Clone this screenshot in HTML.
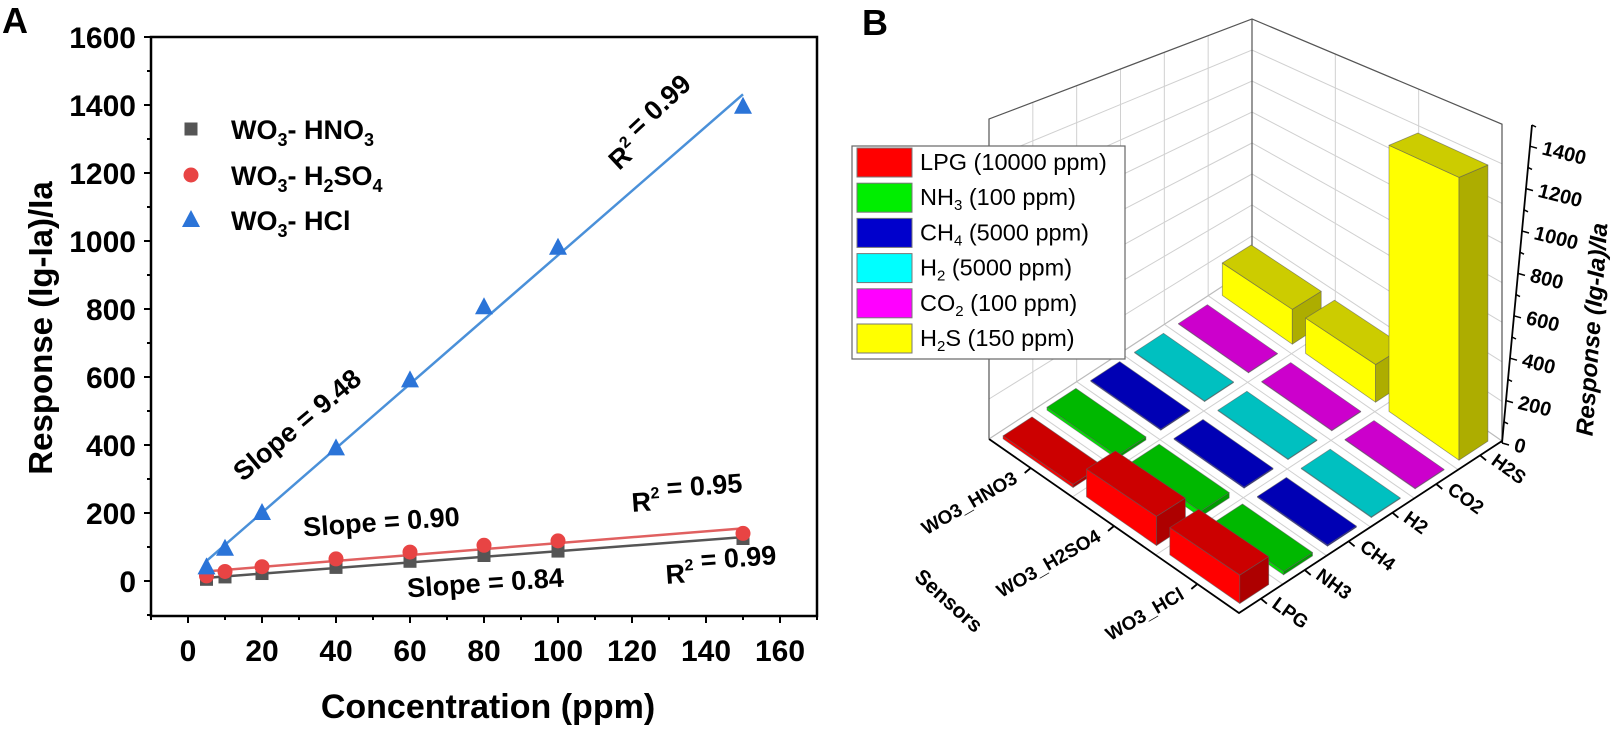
<!DOCTYPE html>
<html><head><meta charset="utf-8"><style>
html,body{margin:0;padding:0;background:#fff;}
svg{display:block;font-family:"Liberation Sans",Arial,sans-serif;}
</style></head><body>
<svg id="fig" width="1622" height="736" viewBox="0 0 1622 736" xmlns="http://www.w3.org/2000/svg">
<g id="panelA"></g>
<g id="panelB"></g>
</svg>
<script>
// ---------- Panel A data ----------
const concentrations = [5, 10, 20, 40, 60, 80, 100, 150];
const hno3Values = [5, 12, 22, 40, 58, 75, 88, 125];
const h2so4Values = [15, 28, 42, 65, 85, 105, 118, 140];
const hclValues = [40, 95, 200, 390, 590, 805, 980, 1395];
const yTicks = [0, 200, 400, 600, 800, 1000, 1200, 1400, 1600];
const xTicks = [0, 20, 40, 60, 80, 100, 120, 140, 160];

// ---------- Panel B data ----------
const sensors = ["WO3_HNO3", "WO3_H2SO4", "WO3_HCl"];
const gases = ["LPG", "NH3", "CH4", "H2", "CO2", "H2S"];
const lpgResp = [15, 130, 120];
const nh3Resp = [15, 25, 15];
const ch4Resp = [5, 5, 5];
const h2Resp = [3, 3, 3];
const co2Resp = [3, 3, 3];
const h2sResp = [200, 200, 1395];
const zTicks = [0, 200, 400, 600, 800, 1000, 1200, 1400];
const legendLabels = [["LPG", "", " (10000 ppm)"], ["NH", "3", " (100 ppm)"], ["CH", "4", " (5000 ppm)"], ["H", "2", " (5000 ppm)"], ["CO", "2", " (100 ppm)"], ["H", "2", "S (150 ppm)"]];

const NS = "http://www.w3.org/2000/svg";
function mk(parent, tag, attrs, text) {
  const e = document.createElementNS(NS, tag);
  for (const k in attrs) e.setAttribute(k, attrs[k]);
  if (text !== undefined) e.textContent = text;
  parent.appendChild(e);
  return e;
}

// ================= PANEL A =================
const A = document.getElementById("panelA");
const fx = v => 188 + 3.70 * v;
const fy = v => 581 - 0.34 * v;

let lab = mk(A, "text", {x: 2, y: 33, "font-size": 36, "font-weight": "bold"}, "A");



let frame = mk(A, "rect", {x: 151, y: 37, width: 666, height: 579, fill: "none", stroke: "#000", "stroke-width": 2.5});



for (let v = -100; v <= 1600; v += 100) {
  const major = v % 200 === 0;
  const t = mk(A, "line", {x1: 151, x2: major ? 144 : 147, y1: fy(v), y2: fy(v), stroke: "#000", "stroke-width": 2});
  
  
}
yTicks.forEach(v => {
  const t = mk(A, "text", {x: 136, y: fy(v) + 11, "font-size": 30, "font-weight": "bold", "text-anchor": "end"}, v);
  
  
});
for (let v = -10; v <= 170; v += 10) {
  const major = v % 20 === 0;
  const t = mk(A, "line", {x1: fx(v), x2: fx(v), y1: 616, y2: major ? 623 : 620, stroke: "#000", "stroke-width": 2});
  
  
}
xTicks.forEach(v => {
  const t = mk(A, "text", {x: fx(v), y: 661, "font-size": 30, "font-weight": "bold", "text-anchor": "middle"}, v);
  
  
});
let xt = mk(A, "text", {x: 488, y: 718, "font-size": 34, "font-weight": "bold", "text-anchor": "middle"}, "Concentration (ppm)");


let yt = mk(A, "text", {x: 0, y: 0, "font-size": 33, "font-weight": "bold", "text-anchor": "middle", transform: "translate(52,328) rotate(-90)"}, "Response (Ig-Ia)/Ia");



function fit(xs, ys) {
  const n = xs.length;
  const mx = xs.reduce((a, b) => a + b) / n, my = ys.reduce((a, b) => a + b) / n;
  let sxy = 0, sxx = 0;
  for (let i = 0; i < n; i++) { sxy += (xs[i] - mx) * (ys[i] - my); sxx += (xs[i] - mx) ** 2; }
  const m = sxy / sxx;
  return [m, my - m * mx];
}
const seriesA = [
  {vals: hno3Values, color: "#555555", line: "#555555", kind: "square", name: "hno3"},
  {vals: h2so4Values, color: "#e84444", line: "#e06060", kind: "circle", name: "h2so4"},
  {vals: hclValues, color: "#2b74d8", line: "#4a90d9", kind: "triangle", name: "hcl"}
];
function marker(g, kind, x, y, color, name) {
  let e;
  if (kind === "square") e = mk(g, "rect", {x: x - 6.5, y: y - 6.5, width: 13, height: 13, fill: color});
  else if (kind === "circle") e = mk(g, "circle", {cx: x, cy: y, r: 7.5, fill: color});
  else e = mk(g, "polygon", {points: `${x},${y - 10} ${x - 9},${y + 7} ${x + 9},${y + 7}`, fill: color});
  
  
  return e;
}
seriesA.forEach(s => {
  const [m, b] = fit(concentrations, s.vals);
  const x0 = concentrations[0], x1 = concentrations[concentrations.length - 1];
  const ln = mk(A, "line", {x1: fx(x0), y1: fy(m * x0 + b), x2: fx(x1), y2: fy(m * x1 + b), stroke: s.line, "stroke-width": 2.5});
  
  
});
seriesA.forEach(s => {
  concentrations.forEach((c, i) => marker(A, s.kind, fx(c), fy(s.vals[i]), s.color, 'point-' + s.name));
});

const legA = mk(A, "g", {});


const legRows = [
  {kind: "square", color: "#555555", y: 129, parts: [["WO", 0], ["3", 1], ["- HNO", 0], ["3", 1]]},
  {kind: "circle", color: "#e84444", y: 175, parts: [["WO", 0], ["3", 1], ["- H", 0], ["2", 1], ["SO", 0], ["4", 1]]},
  {kind: "triangle", color: "#2b74d8", y: 220, parts: [["WO", 0], ["3", 1], ["- HCl", 0]]}
];
legRows.forEach(r => {
  const g = mk(legA, "g", {});
  
  
  marker(g, r.kind, 191, r.y, r.color, 'legend-marker');
  const t = mk(g, "text", {x: 231, y: r.y + 10, "font-size": 27, "font-weight": "bold"});
  r.parts.forEach(p => {
    if (p[1]) { mk(t, "tspan", {"font-size": 18, dy: 7}, p[0]); mk(t, "tspan", {dy: -7, "font-size": 1}, "\u200b"); }
    else mk(t, "tspan", {}, p[0]);
  });
});

function ann(x, y, rot, parts, name) {
  const t = mk(A, "text", {x: 0, y: 0, "font-size": 27, "font-weight": "bold", "text-anchor": "middle", transform: `translate(${x},${y}) rotate(${rot})`});
  parts.forEach(p => {
    if (p[1]) { mk(t, "tspan", {"font-size": 16, dy: -12}, p[0]); mk(t, "tspan", {dy: 12}, ""); }
    else mk(t, "tspan", {}, p[0]);
  });
  
  
}
ann(660, 133, -43, [["R", 0], ["2", 1], [" = 0.99", 0]], "r2-hcl-label");
ann(303, 432, -40, [["Slope = 9.48", 0]], "slope-hcl-label");
ann(382, 531, -4, [["Slope = 0.90", 0]], "slope-h2so4-label");
ann(688, 508, -4, [["R", 0], ["2", 1], [" = 0.95", 0]], "r2-h2so4-label");
ann(486, 592, -4, [["Slope = 0.84", 0]], "slope-hno3-label");
ann(722, 580, -4, [["R", 0], ["2", 1], [" = 0.99", 0]], "r2-hno3-label");

// ================= PANEL B =================
const B = document.getElementById("panelB");
const gasValues = [lpgResp, nh3Resp, ch4Resp, h2Resp, co2Resp, h2sResp];
const gasColors = [[255, 0, 0], [0, 230, 0], [0, 0, 225], [0, 240, 240], [255, 0, 255], [255, 255, 0]];
const Lc = [989, 439], Fc = [1239, 613], Bc = [1252, 267], Rc = [1502, 441];
const kL = 0.2, kF = 0.24, kB = 0.155, kR = 0.198;
function P(u, v, h) {
  const a = (1 - u) * (1 - v), b = u * (1 - v), c = (1 - u) * v, d = u * v;
  const x = a * Lc[0] + b * Fc[0] + c * Bc[0] + d * Rc[0];
  const y = a * Lc[1] + b * Fc[1] + c * Bc[1] + d * Rc[1];
  const k = a * kL + b * kF + c * kB + d * kR;
  return [x, y - (h || 0) * k];
}
const pts = arr => arr.map(p => p[0].toFixed(1) + "," + p[1].toFixed(1)).join(" ");

let lbB = mk(B, "text", {x: 862, y: 35, "font-size": 36, "font-weight": "bold"}, "B");



const WH = 1600;
const grid = mk(B, "g", {stroke: "#d0d0d0", "stroke-width": 1, fill: "none"});


for (let z = 200; z <= WH; z += 200) {
  mk(grid, "polyline", {points: pts([P(0, 0, z), P(0, 1, z), P(1, 1, z)])});
}
for (let j = 1; j < 6; j++) mk(grid, "line", {x1: P(0, j / 6)[0], y1: P(0, j / 6)[1], x2: P(0, j / 6, WH)[0], y2: P(0, j / 6, WH)[1]});
for (let i = 1; i < 3; i++) mk(grid, "line", {x1: P(i / 3, 1)[0], y1: P(i / 3, 1)[1], x2: P(i / 3, 1, WH)[0], y2: P(i / 3, 1, WH)[1]});
for (let j = 1; j < 6; j++) mk(grid, "line", {x1: P(0, j / 6)[0], y1: P(0, j / 6)[1], x2: P(1, j / 6)[0], y2: P(1, j / 6)[1]});
for (let i = 1; i < 3; i++) mk(grid, "line", {x1: P(i / 3, 0)[0], y1: P(i / 3, 0)[1], x2: P(i / 3, 1)[0], y2: P(i / 3, 1)[1]});
const edges = mk(B, "g", {stroke: "#555", "stroke-width": 1.2, fill: "none"});


mk(edges, "polyline", {points: pts([P(0, 0), P(0, 0, WH), P(0, 1, WH), P(1, 1, WH), P(1, 1)])});
mk(edges, "line", {x1: P(0, 1)[0], y1: P(0, 1)[1], x2: P(0, 1, WH)[0], y2: P(0, 1, WH)[1]});
mk(edges, "polyline", {points: pts([P(0, 0), P(0, 1), P(1, 1)]), stroke: "#bbb"});

const ax = mk(B, "g", {stroke: "#000", "stroke-width": 1.8, fill: "none"});


mk(ax, "polyline", {points: pts([P(0, 0), P(1, 0), P(1, 1)])});
sensors.forEach((s, i) => {
  const a = P((i + 0.5) / 3, 0);
  mk(ax, "line", {x1: a[0], y1: a[1], x2: a[0] - 6, y2: a[1] + 5});
});
gases.forEach((g, j) => {
  const a = P(1, (j + 0.5) / 6);
  mk(ax, "line", {x1: a[0], y1: a[1], x2: a[0] + 6, y2: a[1] + 5});
});

const bars = [];
gases.forEach((g, j) => sensors.forEach((s, i) => bars.push({i, j, val: gasValues[j][i]})));
bars.sort((a, b) => (a.i - a.j / 2) - (b.i - b.j / 2));
const shade = (c, f) => `rgb(${Math.round(c[0] * f)},${Math.round(c[1] * f)},${Math.round(c[2] * f)})`;
bars.forEach(b => {
  const cu = (b.i + 0.5) / 3, cv = (b.j + 0.5) / 6;
  const u0 = cu - 0.42 / 3, u1 = cu + 0.42 / 3, v0 = cv - 0.33 / 6, v1 = cv + 0.33 / 6;
  const h = b.val, c = gasColors[b.j];
  const g = mk(B, "g", {stroke: "rgba(90,90,90,0.6)", "stroke-width": 0.8, "stroke-linejoin": "round"});
  
  
  mk(g, "polygon", {points: pts([P(u0, v0), P(u1, v0), P(u1, v0, h), P(u0, v0, h)]), fill: shade(c, 1)});
  mk(g, "polygon", {points: pts([P(u1, v0), P(u1, v1), P(u1, v1, h), P(u1, v0, h)]), fill: shade(c, 0.68)});
  mk(g, "polygon", {points: pts([P(u0, v0, h), P(u1, v0, h), P(u1, v1, h), P(u0, v1, h)]), fill: shade(c, 0.8)});
});

const zA = [1502, 443], zB = [1532, 125];
const zax = mk(B, "g", {});


mk(zax, "line", {x1: zA[0], y1: zA[1], x2: zB[0], y2: zB[1], stroke: "#000", "stroke-width": 1.8});
function zPt(v) { const f = v / 1500; return [zA[0] + (zB[0] - zA[0]) * f, zA[1] + (zB[1] - zA[1]) * f]; }
for (let v = 0; v <= 1500; v += 100) {
  const p = zPt(v);
  mk(zax, "line", {x1: p[0], y1: p[1], x2: p[0] + (v % 200 === 0 ? 7 : 4), y2: p[1] + 2, stroke: "#000", "stroke-width": 1.5});
}
zTicks.forEach(v => {
  const p = zPt(v);
  const t = mk(zax, "text", {x: 0, y: 0, "font-size": 20, "font-weight": "bold", transform: `translate(${p[0] + 11},${p[1] + 8}) rotate(14)`}, v);
  
  
});
let zt = mk(B, "text", {x: 0, y: 0, "font-size": 24, "font-weight": "bold", "font-style": "italic", "text-anchor": "middle", transform: "translate(1600,330) rotate(-86)"}, "Response (Ig-Ia)/Ia");



sensors.forEach((s, i) => {
  const a = P((i + 0.5) / 3, 0);
  const t = mk(B, "text", {x: 0, y: 0, "font-size": 19, "font-weight": "bold", "text-anchor": "end", transform: `translate(${a[0] - 12},${a[1] + 14}) rotate(-30)`}, s);
  
  
});
gases.forEach((g, j) => {
  const a = P(1, (j + 0.5) / 6);
  const t = mk(B, "text", {x: 0, y: 0, "font-size": 19, "font-weight": "bold", transform: `translate(${a[0] + 10},${a[1] + 8}) rotate(36)`}, g);
  
  
});
let st = mk(B, "text", {x: 0, y: 0, "font-size": 21, "font-weight": "bold", "text-anchor": "middle", transform: "translate(944,606) rotate(42)"}, "Sensors");



const legB = mk(B, "g", {});


mk(legB, "rect", {x: 852, y: 146, width: 273, height: 213, fill: "#fff", stroke: "#666", "stroke-width": 1.2});
const legSw = ["#ff0000", "#00ee00", "#0000cc", "#00ffff", "#ff00ff", "#ffff00"];
legendLabels.forEach((l, k) => {
  const cy = 162 + k * 35.2;
  const g = mk(legB, "g", {});
  
  
  mk(g, "rect", {x: 857, y: cy - 14, width: 55, height: 29, fill: legSw[k], stroke: "#777", "stroke-width": 1});
  const t = mk(g, "text", {x: 920, y: cy + 8, "font-size": 23.5});
  mk(t, "tspan", {}, l[0]);
  if (l[1]) { mk(t, "tspan", {"font-size": 15, dy: 5}, l[1]); mk(t, "tspan", {dy: -5}, l[2]); }
  else mk(t, "tspan", {}, l[2]);
});
</script>
</body></html>
